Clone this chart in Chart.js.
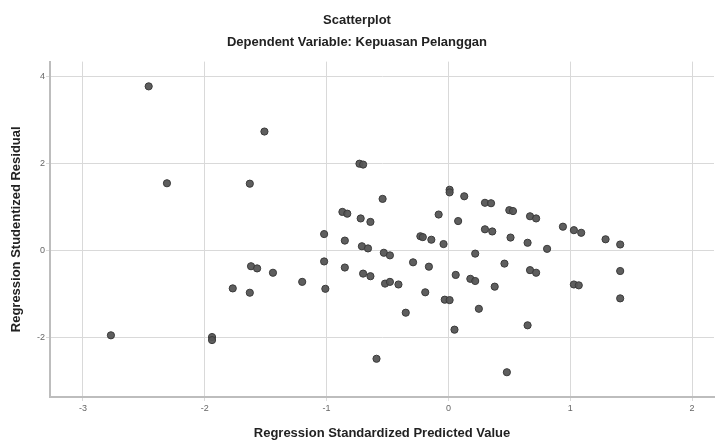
<!DOCTYPE html>
<html>
<head>
<meta charset="utf-8">
<script src="https://cdn.jsdelivr.net/npm/chart.js@4/dist/chart.umd.min.js"></script>
<style>
  html, body { margin: 0; padding: 0; background: #fff; }
  #wrap { width: 719px; height: 441px; }
</style>
</head>
<body>
<div id="wrap"><canvas id="scatter" width="719" height="441"></canvas></div>
<script>
// Regression Standardized Predicted Value (x)
const predicted = [
  -2.46, -1.51, -2.31, -1.63, -2.77, -1.94, -1.94, -1.62, -1.57, -1.44,
  -1.77, -1.63, -1.20, -1.02, -1.01, -1.02, -0.85, -0.85, -0.87, -0.83,
  -0.73, -0.70, 0.01, 0.01, 0.13, -0.54, 0.30, 0.35, -0.72, -0.64,
  -0.08, 0.08, 0.30, 0.36, -0.23, -0.21, -0.14, -0.04, 0.22, -0.71,
  -0.66, -0.53, -0.48, -0.29, -0.16, -0.70, -0.64, 0.06, 0.18, 0.22,
  -0.52, -0.48, -0.41, -0.19, -0.03, 0.01, -0.35, 0.38, 0.25, 0.05,
  -0.59, 0.65, 0.48, 0.50, 0.53, 0.67, 0.72, 0.94, 1.03, 1.09,
  1.29, 1.41, 0.51, 0.65, 0.81, 0.46, 0.67, 0.72, 1.03, 1.07,
  1.41, 1.41
];

// Regression Studentized Residual (y)
const residual = [
  3.77, 2.73, 1.54, 1.53, -1.96, -2.00, -2.07, -0.37, -0.42, -0.52,
  -0.88, -0.98, -0.73, -0.26, -0.89, 0.37, 0.22, -0.40, 0.88, 0.84,
  1.99, 1.97, 1.39, 1.33, 1.24, 1.18, 1.09, 1.08, 0.73, 0.65,
  0.82, 0.67, 0.48, 0.43, 0.32, 0.30, 0.24, 0.14, -0.08, 0.09,
  0.04, -0.06, -0.12, -0.28, -0.38, -0.54, -0.60, -0.57, -0.66, -0.71,
  -0.77, -0.73, -0.79, -0.97, -1.14, -1.15, -1.44, -0.84, -1.35, -1.83,
  -2.50, -1.73, -2.81, 0.92, 0.90, 0.78, 0.73, 0.54, 0.46, 0.40,
  0.25, 0.13, 0.29, 0.17, 0.03, -0.31, -0.46, -0.52, -0.79, -0.81,
  -0.48, -1.11
];

// Marcas de los ejes
const xTicks = [-3, -2, -1, 0, 1, 2];
const yTicks = [-2, 0, 2, 4];

const points = predicted.map((x, i) => ({ x: x, y: residual[i] }));

const tickFont = { family: 'Liberation Sans, Arial, sans-serif', size: 9 };
const titleFont = { family: 'Liberation Sans, Arial, sans-serif', size: 13, weight: 'bold', lineHeight: 1.2 };

new Chart(document.getElementById('scatter'), {
  type: 'scatter',
  data: {
    datasets: [{
      data: points,
      pointRadius: 3.6,
      pointHoverRadius: 3.6,
      backgroundColor: 'rgba(85, 85, 85, 0.95)',
      borderColor: '#3a3a3a',
      borderWidth: 1
    }]
  },
  options: {
    responsive: false,
    animation: false,
    layout: { padding: { left: 0, right: 5, top: 0, bottom: 0 } },
    plugins: {
      legend: { display: false },
      tooltip: { enabled: false },
      title: {
        display: true,
        text: 'Scatterplot',
        color: '#222',
        font: titleFont,
        padding: { top: 13, bottom: 0 }
      },
      subtitle: {
        display: true,
        text: 'Dependent Variable: Kepuasan Pelanggan',
        color: '#222',
        font: titleFont,
        padding: { top: 6.4, bottom: 11 }
      }
    },
    scales: {
      x: {
        type: 'linear',
        min: -3.27,
        max: 2.18,
        afterBuildTicks: (scale) => { scale.ticks = xTicks.map(v => ({ value: v })); },
        afterFit: (scale) => { scale.height = 44; },
        ticks: { color: '#666', font: tickFont, padding: 2 },
        grid: { color: '#d9d9d9', lineWidth: 1, tickLength: 4 },
        border: { color: '#bdbdbd', width: 2 },
        title: {
          display: true,
          text: 'Regression Standardized Predicted Value',
          color: '#222',
          font: titleFont,
          padding: { top: 0, bottom: 0 }
        }
      },
      y: {
        type: 'linear',
        min: -3.38,
        max: 4.34,
        afterBuildTicks: (scale) => { scale.ticks = yTicks.map(v => ({ value: v })); },
        afterFit: (scale) => { scale.width = 50; },
        ticks: { color: '#666', font: tickFont, padding: 1 },
        grid: { color: '#d9d9d9', lineWidth: 1, tickLength: 4 },
        border: { color: '#bdbdbd', width: 2 },
        title: {
          display: true,
          text: 'Regression Studentized Residual',
          color: '#222',
          font: titleFont,
          padding: { top: 9, bottom: 0 }
        }
      }
    }
  }
});
</script>
</body>
</html>
